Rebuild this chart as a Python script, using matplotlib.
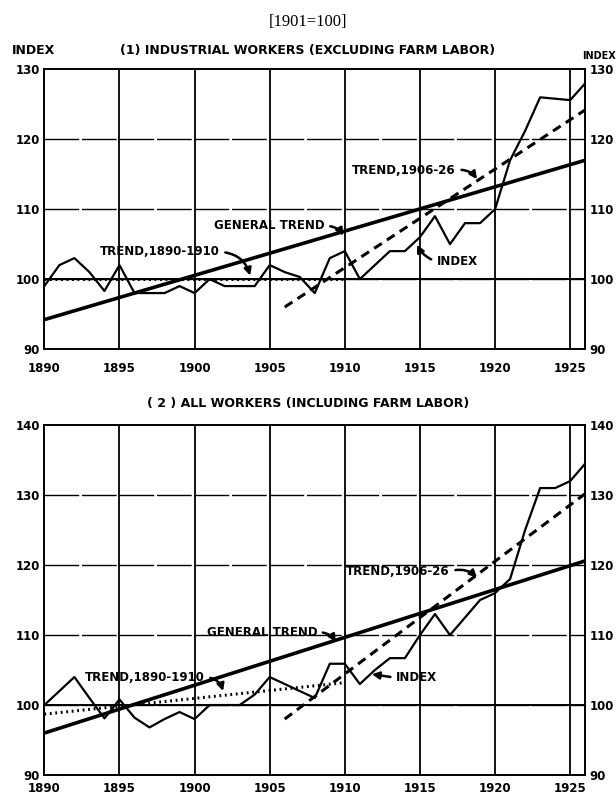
import numpy as np
import matplotlib
matplotlib.use("Agg")
from matplotlib import pyplot as plt

# years for both index series
years = list(range(1890, 1927))

# (1) industrial workers (excluding farm labor)
ind_index = [99, 102, 103, 101, 98.3, 102, 98, 98, 98, 99,
             98, 100, 99, 99, 99, 102, 101, 100.3, 98, 103,
             104, 100, 102, 104, 104, 106, 109, 105, 108, 108,
             110, 117, 121.2, 126, 125.8, 125.6, 128]
ind_general = [94.2, 117.0]          # 1890 -> 1926
ind_trend_early = [100.0, 100.0]     # 1890 -> 1910
ind_trend_late = [96.0, 124.2]       # 1906 -> 1926

# (2) all workers (including farm labor)
all_index = [100, 102, 104, 101, 98.1, 100.8, 98.2, 96.8, 98, 99,
             98, 100, 100, 100, 101.5, 104, 103, 102, 101, 105.9,
             105.9, 103, 105, 106.7, 106.7, 110, 113, 110, 112.5, 115,
             116, 118, 125, 131, 131, 132, 134.5]
all_general = [96.0, 120.6]
all_trend_early = [98.7, 103.2]
all_trend_late = [98.0, 130.2]

x_general = [1890, 1926]
x_early = [1890, 1910]
x_late = [1906, 1926]

lab = dict(fontsize=8.5, fontweight='bold', family='DejaVu Sans')


def arrow(ax, text, xy, xytext, rad, side):
    # side: which end of the text the arrow leaves from
    rel = (1.0, 0.5) if side == 'right' else (0.0, 0.5)
    ax.annotate(text, xy=xy, xytext=xytext, ha='left', va='center', **lab,
                arrowprops=dict(arrowstyle='-|>,head_length=0.5,head_width=0.25',
                                color='black', lw=1.8, relpos=rel,
                                connectionstyle='arc3,rad=%s' % rad,
                                shrinkA=2, shrinkB=0))


def panel(ax, ylo, yhi, index, general, early, late, xpad):
    ax.set_xlim(1890, 1926)
    ax.set_ylim(ylo, yhi)
    for yr in range(1895, 1926, 5):
        ax.axvline(yr, color='black', lw=1.3, zorder=1)
    for v in range(ylo + 10, yhi, 10):
        ax.axhline(v, color='black', lw=1.0, dashes=(25, 2), zorder=1)
    ax.axhline(100, color='black', lw=1.4, zorder=1)
    ax.plot(years, index, color='black', lw=1.6, zorder=3)
    ax.plot(x_general, general, color='black', lw=2.6, zorder=3)
    ax.plot(x_early, early, color='black', lw=2.2, linestyle=(0, (0.6, 1.2)),
            zorder=3)
    ax.plot(x_late, late, color='black', lw=2.2, linestyle=(0, (3, 2)), zorder=3)
    ax.set_xticks(range(1890, 1926, 5))
    ax.set_yticks(range(ylo, yhi + 1, 10))
    ax.tick_params(length=0, labelsize=8.5, labelright=True, pad=4)
    ax.tick_params(axis='y', which='both', right=False, pad=3)
    ax.tick_params(axis='x', pad=xpad)
    for t in ax.get_xticklabels() + ax.get_yticklabels():
        t.set_fontweight('bold')
    for s in ax.spines.values():
        s.set_linewidth(1.4)


fig = plt.figure(figsize=(6.16, 7.99), dpi=100)
ax1 = fig.add_axes([0.072, 0.5632, 0.878, 0.350])
ax2 = fig.add_axes([0.072, 0.030, 0.878, 0.438])

panel(ax1, 90, 130, ind_index, ind_general, ind_trend_early, ind_trend_late, 9)
panel(ax2, 90, 140, all_index, all_general, all_trend_early, all_trend_late, 5)

arrow(ax1, 'GENERAL TREND', (1909.9, 106.2), (1901.3, 107.6), -0.3, 'right')
arrow(ax1, 'TREND,1890-1910', (1903.7, 100.5), (1893.7, 103.9), -0.35, 'right')
arrow(ax1, 'INDEX', (1914.8, 104.9), (1916.1, 102.5), -0.2, 'left')
arrow(ax1, 'TREND,1906-26', (1918.8, 114.3), (1910.5, 115.6), -0.3, 'right')

arrow(ax2, 'GENERAL TREND', (1909.4, 109.0), (1900.8, 110.4), -0.3, 'right')
arrow(ax2, 'TREND,1890-1910', (1901.9, 102.0), (1892.7, 104.0), -0.35, 'right')
arrow(ax2, 'INDEX', (1911.8, 104.4), (1913.4, 103.9), 0.0, 'left')
arrow(ax2, 'TREND,1906-26', (1918.8, 118.2), (1910.1, 119.1), -0.3, 'right')

fig.text(0.5, 0.973, '[1901=100]', ha='center', va='center', fontsize=12,
         family='Liberation Serif')
fig.text(0.019, 0.9374, 'INDEX', ha='left', va='center',
         fontsize=9, fontweight='bold', family='DejaVu Sans')
fig.text(0.945, 0.930, 'INDEX', ha='left', va='center',
         fontsize=7, fontweight='bold', family='DejaVu Sans')
fig.text(0.5, 0.9374, '(1) INDUSTRIAL WORKERS (EXCLUDING FARM LABOR)',
         ha='center', va='center', fontsize=9, fontweight='bold',
         family='DejaVu Sans')
fig.text(0.5, 0.4944, '( 2 ) ALL WORKERS (INCLUDING FARM LABOR)',
         ha='center', va='center', fontsize=9, fontweight='bold',
         family='DejaVu Sans')

plt.savefig('out.png', dpi=100)
